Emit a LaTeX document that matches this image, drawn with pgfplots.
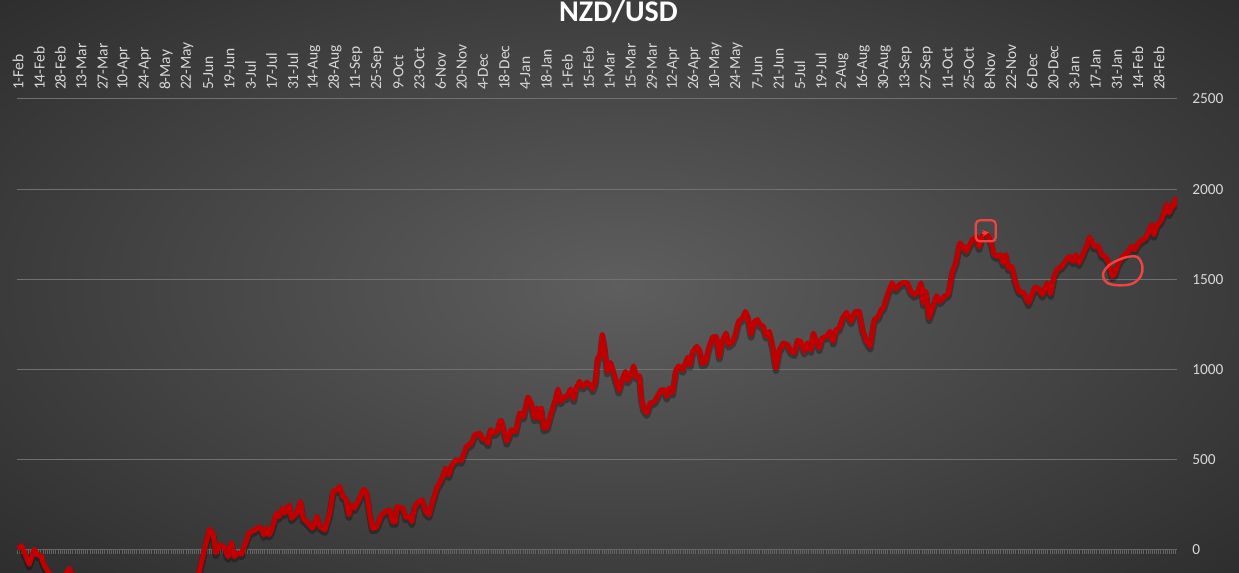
\documentclass[border=0pt]{standalone}
\usepackage{pgfplots}
\pgfplotsset{compat=1.18}
\usepackage{pgfplotstable}
\usepackage{fontspec}
\setmainfont{Carlito}

\definecolor{bgin}{RGB}{94,94,94}
\definecolor{bgout}{RGB}{44,44,44}
\definecolor{lred}{RGB}{192,0,0}
\definecolor{gridc}{RGB}{112,112,112}
\definecolor{labc}{RGB}{217,217,217}
\definecolor{annot}{RGB}{238,68,68}
\definecolor{axc}{RGB}{100,100,100}

% x = trading-day position in label steps (one label every 10 days)
\pgfplotstableread{
x y
0.00 5
0.17 21
0.53 -82
0.77 1
0.91 -31
1.07 -31
1.20 -75
1.28 -96
1.43 -123
1.75 -200
2.08 -170
2.43 -104
2.70 -200
3.40 -280
4.35 -330
5.30 -390
6.24 -360
7.19 -330
7.90 -280
8.57 -125
9.05 112
9.23 90
9.36 -19
9.55 25
9.74 16
9.94 -40
10.10 38
10.23 -40
10.42 -21
10.58 -25
10.94 93
11.21 108
11.36 123
11.52 118
11.63 81
11.76 118
11.88 81
12.00 108
12.23 201
12.35 182
12.52 229
12.62 201
12.83 247
12.94 173
13.18 201
13.37 266
13.49 173
13.73 146
13.93 118
14.15 182
14.28 127
14.52 108
14.75 201
14.91 321
15.07 331
15.22 349
15.38 293
15.51 284
15.66 192
15.78 247
15.93 229
16.09 266
16.36 334
16.49 321
16.64 201
16.77 118
16.96 123
17.20 192
17.43 214
17.59 219
17.72 154
17.86 154
17.93 238
18.22 229
18.35 179
18.53 182
18.64 154
18.77 238
18.93 262
19.13 275
19.29 210
19.45 192
19.64 275
19.83 346
20.03 386
20.24 451
20.39 414
20.51 464
20.71 497
20.98 493
21.21 571
21.45 590
21.61 636
21.84 646
22.00 612
22.16 608
22.24 590
22.35 664
22.55 646
22.71 664
22.79 710
22.87 716
23.13 599
23.34 664
23.55 654
23.74 757
23.92 738
24.13 846
24.29 812
24.44 729
24.55 784
24.65 729
24.76 784
24.88 673
25.04 677
25.23 757
25.44 834
25.55 890
25.67 821
25.86 849
25.97 846
26.15 890
26.30 836
26.38 886
26.57 932
26.73 904
26.92 927
27.09 914
27.20 890
27.33 932
27.44 1068
27.55 1071
27.65 1192
27.75 1127
27.88 988
28.04 1038
28.15 997
28.31 932
28.43 882
28.59 942
28.75 988
28.86 938
29.02 973
29.13 1019
29.25 960
29.41 964
29.49 849
29.60 784
29.75 757
29.91 812
30.12 821
30.43 886
30.59 886
30.70 849
30.83 896
30.98 871
31.14 997
31.27 1019
31.46 997
31.69 1066
31.81 1025
31.93 1099
32.12 1127
32.25 1108
32.37 1034
32.53 1038
32.69 1118
32.87 1179
33.04 1182
33.19 1071
33.32 1154
33.51 1201
33.63 1136
33.82 1154
33.95 1192
34.10 1266
34.29 1284
34.42 1321
34.53 1293
34.69 1192
34.85 1266
35.00 1275
35.12 1247
35.27 1238
35.40 1186
35.56 1210
35.72 1118
35.87 1007
36.03 1108
36.22 1146
36.42 1136
36.58 1099
36.74 1090
36.89 1160
37.05 1154
37.21 1099
37.37 1146
37.53 1108
37.64 1201
37.79 1154
37.92 1118
38.05 1173
38.26 1182
38.43 1210
38.58 1154
38.71 1219
38.87 1229
39.02 1284
39.21 1316
39.42 1266
39.62 1321
39.81 1321
39.97 1219
40.13 1164
40.33 1127
40.52 1275
40.72 1293
40.84 1331
40.95 1340
41.15 1414
41.36 1479
41.55 1446
41.70 1469
41.91 1482
42.09 1479
42.25 1432
42.41 1414
42.57 1427
42.73 1479
42.84 1368
42.96 1432
43.12 1284
43.28 1340
43.47 1408
43.63 1377
43.83 1404
44.03 1419
44.22 1543
44.38 1590
44.57 1701
44.73 1682
44.88 1654
45.04 1692
45.17 1719
45.36 1734
45.48 1679
45.61 1734
45.77 1757
45.92 1738
46.04 1710
46.19 1636
46.35 1627
46.51 1636
46.62 1590
46.75 1636
46.87 1562
47.03 1571
47.22 1479
47.38 1432
47.61 1423
47.82 1368
48.01 1423
48.13 1457
48.32 1446
48.48 1414
48.71 1479
48.87 1419
49.03 1516
49.19 1557
49.39 1571
49.61 1608
49.77 1627
49.93 1599
50.06 1636
50.21 1590
50.37 1631
50.56 1682
50.72 1734
50.92 1682
51.12 1686
51.28 1636
51.44 1627
51.60 1599
51.79 1516
51.92 1534
52.07 1590
52.29 1627
52.50 1646
52.70 1682
52.86 1664
53.02 1701
53.21 1719
53.37 1729
53.52 1766
53.65 1803
53.76 1747
53.92 1803
54.08 1821
54.24 1868
54.36 1914
54.47 1868
54.63 1905
54.76 1946
54.87 1905
}\nzd

\begin{document}
\begin{tikzpicture}[x=0.75pt,y=0.75pt]
\begin{scope}
\clip (0,0) rectangle (1239,572);
\shade[inner color=bgin, outer color=bgout] (-260,-150) rectangle (1499,722);
\end{scope}
\begin{axis}[
    at={(12.75pt,0pt)}, anchor=south west,
    scale only axis, width=870pt, height=354.75pt,
    xmin=-0.05, xmax=54.85, ymin=-125, ymax=2500,
    axis line style={draw=none},
    major tick length=0pt, minor tick length=0pt,
    xtick={0,...,54},
    xticklabels={1-Feb,14-Feb,28-Feb,13-Mar,27-Mar,10-Apr,24-Apr,8-May,22-May,5-Jun,19-Jun,3-Jul,17-Jul,31-Jul,14-Aug,28-Aug,11-Sep,25-Sep,9-Oct,23-Oct,6-Nov,20-Nov,4-Dec,18-Dec,4-Jan,18-Jan,1-Feb,15-Feb,1-Mar,15-Mar,29-Mar,12-Apr,26-Apr,10-May,24-May,7-Jun,21-Jun,5-Jul,19-Jul,2-Aug,16-Aug,30-Aug,13-Sep,27-Sep,11-Oct,25-Oct,8-Nov,22-Nov,6-Dec,20-Dec,3-Jan,17-Jan,31-Jan,14-Feb,28-Feb},
    xticklabel pos=upper,
    xticklabel style={rotate=90, anchor=west, text=labc, font=\fontsize{11.6}{12}\selectfont},
    xticklabel shift=3.3pt,
    ytick={0,500,...,2500},
    yticklabel pos=right,
    yticklabel style={text=labc, font=\fontsize{11.5}{12}\selectfont, /pgf/number format/1000 sep={}},
    yticklabel shift=8pt,
    /pgf/number format/assume math mode=true,
    ymajorgrids, grid style={gridc, line width=0.75pt},
]
\draw[axc, line width=0.9pt] (axis cs:-0.05,0) -- (axis cs:54.8,0);
\draw[axc, line width=3pt, dash pattern=on 0.6pt off 1pt] ([yshift=-1.6pt]axis cs:-0.05,0) -- ([yshift=-1.6pt]axis cs:54.8,0);
\addplot[black, opacity=0.3, line width=5pt, line join=round, transform canvas={yshift=-2pt}] table[x=x, y=y] {\nzd};
\addplot[lred, line width=3.8pt, line join=round] table[x=x, y=y] {\nzd};
\draw[annot, line width=1.7pt, rounded corners=3pt] (axis cs:45.33,1710) rectangle (axis cs:46.27,1827);
\draw[annot, line width=1.2pt, -stealth] (axis cs:45.62,1755) -- (axis cs:45.95,1760);
\draw[annot, line width=1.8pt] plot[smooth cycle, tension=0.6] coordinates {(axis cs:51.35,1516) (axis cs:51.55,1479) (axis cs:52.10,1466) (axis cs:52.73,1475) (axis cs:53.13,1516) (axis cs:53.21,1571) (axis cs:52.97,1623) (axis cs:52.42,1621) (axis cs:51.79,1590) (axis cs:51.44,1553)};
\end{axis}
\node[anchor=base, text=white, font=\bfseries\fontsize{22.5}{24}\selectfont] at (618.5,550) {NZD/USD};
\pgfresetboundingbox
\useasboundingbox (0,0) rectangle (1239,572);
\end{tikzpicture}
\end{document}
